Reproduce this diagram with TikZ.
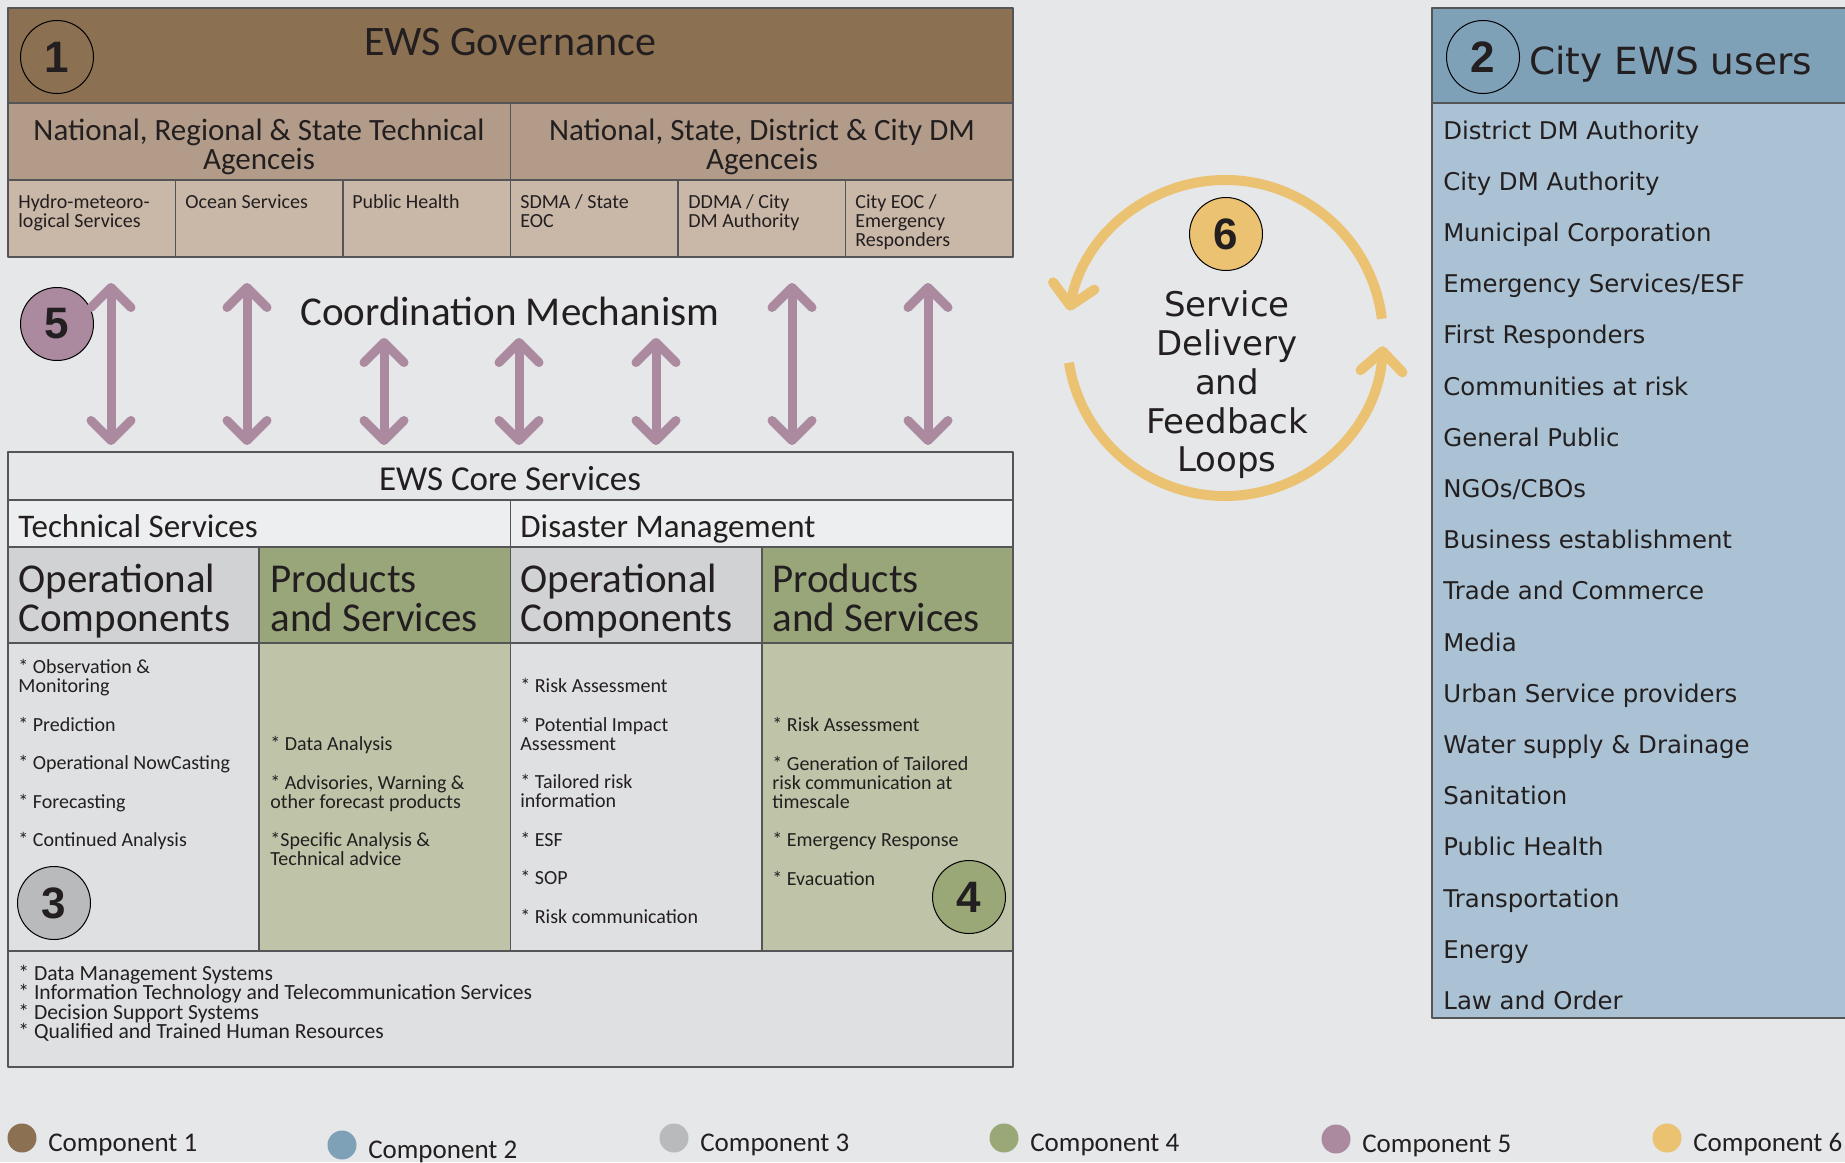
\documentclass[tikz,border=0pt]{standalone}
\usepackage{fontspec}
\setmainfont{Carlito}
\newfontfamily\userfont{DejaVu Sans}
\newfontfamily\digitfont{Liberation Sans}
\usetikzlibrary{arrows.meta,positioning}
\newcommand\sizeto[2]{\fontsize{#1}{#2}\selectfont\lineskiplimit=-50pt\relax}

\definecolor{pagegray}{RGB}{230,231,233}
\definecolor{boxline}{RGB}{85,85,88}
\definecolor{inktext}{RGB}{35,31,32}
\definecolor{govbrown}{RGB}{139,112,82}
\definecolor{agencytan}{RGB}{178,156,137}
\definecolor{celltan}{RGB}{201,183,167}
\definecolor{userblue}{RGB}{127,161,184}
\definecolor{userlight}{RGB}{170,194,211}
\definecolor{headwhite}{RGB}{237,238,239}
\definecolor{opgray}{RGB}{209,210,212}
\definecolor{opbody}{RGB}{223,224,226}
\definecolor{prodgreen}{RGB}{153,166,122}
\definecolor{prodbody}{RGB}{191,196,168}
\definecolor{coordmauve}{RGB}{171,138,160}
\definecolor{loopgold}{RGB}{235,194,114}
\definecolor{numgray}{RGB}{185,186,188}
\definecolor{numgreen}{RGB}{154,168,120}

\tikzset{
  cell/.style={draw=boxline, line width=0.8pt},
  txt/.style={inner sep=0pt, text=inktext},
  numdisc/.style={circle, draw=black, line width=0.5pt, minimum size=36.5pt, inner sep=0pt,
    text=inktext, font=\digitfont\bfseries\sizeto{22}{22}},
  govtitle/.style={txt, anchor=base, font=\sizeto{21}{21}},
  agencyhead/.style={txt, align=center, font=\sizeto{15.5}{14.5}},
  agencycell/.style={txt, anchor=north west, align=left, font=\sizeto{10}{9.5}},
  coretitle/.style={txt, anchor=base, font=\sizeto{17.5}{17.5}},
  corehead/.style={txt, anchor=base west, font=\sizeto{16.5}{16.5}},
  colhead/.style={txt, anchor=north west, align=left, font=\sizeto{20.5}{19.5}},
  bullets/.style={txt, anchor=north west, align=left, font=\sizeto{10}{9.6}},
  useritem/.style={txt, anchor=base west, font=\userfont\sizeto{12.2}{12.2}},
  looptext/.style={txt, align=center, font=\userfont\sizeto{17}{19.4}},
  legenddot/.style={circle, minimum size=14.5pt, inner sep=0pt},
  legendtext/.style={txt, font=\sizeto{13.5}{13.5}},
  coordarrow/.style={draw=coordmauve, line width=4.5pt, line cap=round,
    {Straight Barb[length=10pt,width=20pt,round]}-{Straight Barb[length=10pt,width=20pt,round]}},
  loopline/.style={draw=loopgold, line width=5pt, -{Straight Barb[length=10pt,width=21pt,round]}}
}

\begin{document}
\begin{tikzpicture}[x=0.5pt, y=-0.5pt, line join=round]
	\useasboundingbox (0,0) rectangle (1845,1162);
	\fill[pagegray] (0,0) rectangle (1845,1162);
	% 1: governance block
	\filldraw[fill=govbrown, cell] (8,8) rectangle (1013,103);
	\filldraw[fill=agencytan, cell] (8,103) rectangle (510.5,180);
	\filldraw[fill=agencytan, cell] (510.5,103) rectangle (1013,180);
	\foreach \i in {0,...,5}
		\filldraw[fill=celltan, cell] ({8+167.5*\i},180) rectangle ({8+167.5*(\i+1)},257);
	\node[numdisc] (govnum) at (57,57) {1};
	\node[govtitle] (govtitle) at (510,55) {EWS Governance};
	\node[agencyhead] (techagency) at (259,147) {National, Regional \& State Technical\\Agenceis};
	\node[agencyhead] (dmagency) at (762,147) {National, State, District \& City DM\\Agenceis};
	\node[agencycell] (hydro) at (18,194) {Hydro-meteoro-\\logical Services};
	\node[agencycell] (ocean) at (185,194) {Ocean Services};
	\node[agencycell] (health) at (352,194) {Public Health};
	\node[agencycell] (sdma) at (520,194) {SDMA / State\\EOC};
	\node[agencycell] (ddma) at (688,194) {DDMA / City\\DM Authority};
	\node[agencycell] (cityeoc) at (855,194) {City EOC /\\Emergency\\Responders};
	% 5: coordination arrows
	\node[numdisc, fill=coordmauve] (coordnum) at (57,324) {5};
	\node[govtitle, font=\sizeto{20.5}{20.5}] (coordtitle) at (510,325) {Coordination Mechanism};
	\foreach \x/\t [count=\k] in {111/283,247/283,384/338,519/338,656/338,792/283,928/283}{
		\coordinate (coordtop\k) at (\x,\t);
		\coordinate (coordbot\k) at (\x,445);
		\draw[coordarrow] (coordtop\k) -- (coordbot\k);
	}
	% 3 and 4: core services block
	\filldraw[fill=pagegray, cell] (8,452) rectangle (1013,500);
	\filldraw[fill=headwhite, cell] (8,500) rectangle (510.5,547);
	\filldraw[fill=headwhite, cell] (510.5,500) rectangle (1013,547);
	\foreach \i/\hd/\bd in {0/opgray/opbody,1/prodgreen/prodbody,2/opgray/opbody,3/prodgreen/prodbody}{
		\filldraw[fill=\hd, cell] ({8+251.25*\i},547) rectangle ({8+251.25*(\i+1)},643);
		\filldraw[fill=\bd, cell] ({8+251.25*\i},643) rectangle ({8+251.25*(\i+1)},951);
	}
	\filldraw[fill=opbody, cell] (8,951) rectangle (1013,1067);
	\node[coretitle] (coretitle) at (510,490) {EWS Core Services};
	\node[corehead] (techhead) at (18,537) {Technical Services};
	\node[corehead] (dmhead) at (520,537) {Disaster Management};
	\node[colhead] (techop) at (18,564) {Operational\\Components};
	\node[colhead] (techprod) at (270,564) {Products\\and Services};
	\node[colhead] (dmop) at (520,564) {Operational\\Components};
	\node[colhead] (dmprod) at (772,564) {Products\\and Services};
	\node[bullets] (techoplist) at (18,659) {* Observation \&\\Monitoring\\[9.6pt]* Prediction\\[9.6pt]* Operational NowCasting\\[9.6pt]* Forecasting\\[9.6pt]* Continued Analysis};
	\node[bullets] (techprodlist) at (270,736) {* Data Analysis\\[9.6pt]* Advisories, Warning \&\\other forecast products\\[9.6pt]*Specific Analysis \&\\Technical advice};
	\node[bullets] (dmoplist) at (520,678) {* Risk Assessment\\[9.6pt]* Potential Impact\\Assessment\\[9.6pt]* Tailored risk\\information\\[9.6pt]* ESF\\[9.6pt]* SOP\\[9.6pt]* Risk communication};
	\node[bullets] (dmprodlist) at (772,717) {* Risk Assessment\\[9.6pt]* Generation of Tailored\\risk communication at\\timescale\\[9.6pt]* Emergency Response\\[9.6pt]* Evacuation};
	\node[bullets, font=\sizeto{10.8}{9.6}] (supportlist) at (18,965) {* Data Management Systems\\* Information Technology and Telecommunication Services\\* Decision Support Systems\\* Qualified and Trained Human Resources};
	\node[numdisc, fill=numgray] (technum) at (54,903) {3};
	\node[numdisc, fill=numgreen] (dmnum) at (969,897) {4};
	% 6: feedback loop
	\coordinate (loopc) at (1225,338);
	\draw[loopline] (loopc) ++(-7:158) arc[start angle=-7, end angle=-170, radius=158];
	\draw[loopline] (loopc) ++(-189:158) arc[start angle=-189, end angle=-357, radius=158];
	\node[numdisc, fill=loopgold] (loopnum) at (1226,234) {6};
	\node[looptext] (looptitle) at (1227,385) {Service\\Delivery\\and\\Feedback\\Loops};
	% 2: users
	\filldraw[fill=userblue, cell] (1432,8) rectangle (1860,103);
	\filldraw[fill=userlight, cell] (1432,103) rectangle (1860,1018);
	\node[numdisc] (usernum) at (1483,57) {2};
	\node[txt, anchor=base west, font=\userfont\sizeto{18.7}{18.7}] (usertitle) at (1529,74) {City EWS users};
	\foreach \u [count=\k from 0] in {District DM Authority, City DM Authority, Municipal Corporation,
		Emergency Services/ESF, First Responders, Communities at risk, General Public, NGOs/CBOs,
		Business establishment, Trade and Commerce, Media, Urban Service providers,
		Water supply \& Drainage, Sanitation, Public Health, Transportation, Energy, Law and Order}
		\node[useritem] (user\k) at (1443,{139+51.2*\k}) {\u};
	% legend
	\foreach \k/\x/\y/\c in {1/22/1138/govbrown, 2/342/1145/userblue, 3/674/1138/numgray,
		4/1004/1138/numgreen, 5/1336/1139/coordmauve, 6/1667/1138/loopgold}{
		\node[legenddot, fill=\c] (dot\k) at (\x,\y) {};
		\node[legendtext, right=5.5pt of dot\k, yshift=-3.5pt] (leg\k) {Component \k};
	}
\end{tikzpicture}
\end{document}
